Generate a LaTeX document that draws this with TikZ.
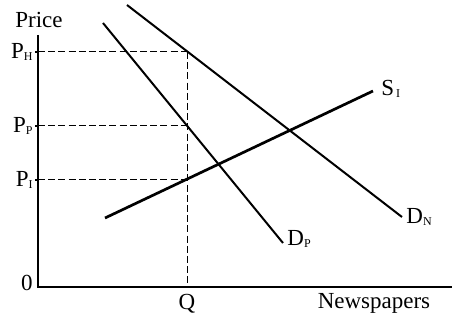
\documentclass[tikz,border=0pt]{standalone}
\usepackage{fontspec}
\setmainfont{Liberation Serif}
\usetikzlibrary{positioning}

\newcommand{\lowsub}[1]{\raisebox{-0.25ex}{\fontsize{6}{7}\selectfont #1}}

\begin{document}
\begin{tikzpicture}[
    x=0.5pt, y=-0.5pt,
    axis/.style={line width=0.75pt},
    curve/.style={line width=1pt},
    supply/.style={line width=1.35pt},
    guide/.style={dash pattern=on 3.5pt off 1.6pt, line width=0.5pt},
    lbl/.style={font=\fontsize{11.5}{13}\selectfont, inner sep=0pt}
]
\useasboundingbox (0,0) rectangle (452,321);

% axes
\coordinate (origin) at (38,287);
\coordinate (ytop) at (38,35);
\coordinate (xend) at (452,287);
\draw[axis] (ytop) -- (origin) -- (xend);
\node[lbl] (price) at (39,20) {Price};
\node[lbl] (zero) at (27,283) {0};
\node[lbl] (news) at (374,303) {Newspapers};

% price levels on the axis
\coordinate (yH) at (38,52);
\coordinate (yP) at (38,126);
\coordinate (yI) at (38,180);
\foreach \lvl in {yH,yP,yI}
    \draw[axis] (\lvl) -- ++(-3,0);
\node[lbl, left=2.5pt of yH] (pH) {P\lowsub{H}};
\node[lbl, left=2.5pt of yP] (pP) {P\lowsub{P}};
\node[lbl, left=2.5pt of yI] (pI) {P\lowsub{I}};

% quantity Q
\coordinate (xQ) at (188,287);
\coordinate (qH) at (188,52);
\coordinate (qP) at (188,126);
\coordinate (qI) at (188,180);
\node[lbl] (qlbl) at (187,304) {Q};

% demand and supply curves
\coordinate (dN1) at (127,5);
\coordinate (dN2) at (402,217);
\coordinate (dP1) at (103,23);
\coordinate (dP2) at (283,243);
\coordinate (s1) at (105,218);
\coordinate (s2) at (373,91);
\draw[curve] (dN1) -- (dN2);
\draw[curve] (dP1) -- (dP2);
\draw[supply] (s1) -- (s2);
\node[lbl, right=2pt of dN2] (dNlbl) {D\lowsub{N}};
\node[lbl, right=2pt of dP2, yshift=2pt] (dPlbl) {D\lowsub{P}};
\node[lbl, right=4pt of s2, yshift=1pt] (sIlbl) {S\lowsub{\,I}};

% dashed guides
\draw[guide] (yH) -- (qH);
\draw[guide] (yP) -- (qP);
\draw[guide] (yI) -- (qI);
\draw[guide] (qH) -- (xQ);
\end{tikzpicture}
\end{document}
